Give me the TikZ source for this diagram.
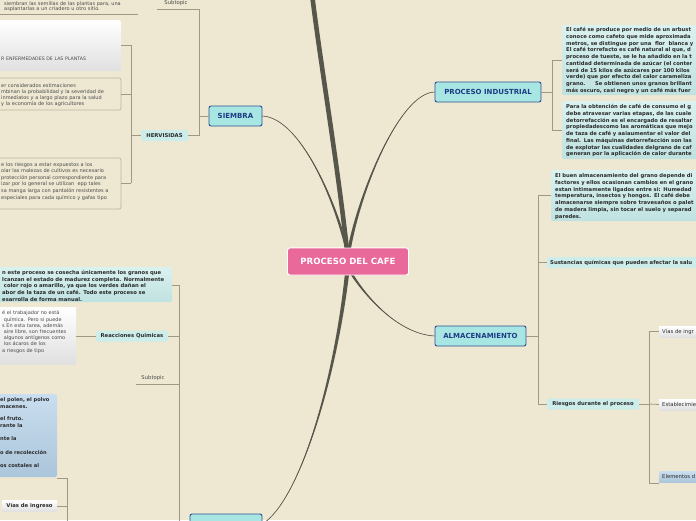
\documentclass[tikz,border=0pt]{standalone}
\usepackage{fontspec}
\setmainfont{DejaVu Sans}
\usetikzlibrary{calc}
\definecolor{bg}{HTML}{EEE8D3}
\definecolor{branchcol}{HTML}{57564A}
\definecolor{conncol}{HTML}{9E9884}
\definecolor{rootpink}{HTML}{E8699A}
\definecolor{topicfill}{HTML}{A8E6E3}
\definecolor{topicborder}{HTML}{2E5190}
\definecolor{topictext}{HTML}{1E3C86}
\definecolor{subfill}{HTML}{CDEDEB}
\definecolor{cyanA}{HTML}{DAF2F0}
\definecolor{cyanB}{HTML}{BFE2E0}
\definecolor{blueA}{HTML}{C9DEEF}
\definecolor{blueB}{HTML}{ABC5DA}
\definecolor{greyB}{HTML}{E0E0E0}
\definecolor{boxborder}{HTML}{BDB6A2}
\definecolor{dtext}{HTML}{2A2A2A}
\definecolor{gtext}{HTML}{4A4A4A}
\newcommand{\taper}[5]{%
  \fill[branchcol] ($(#1)+(-#5,0)$) .. controls ($(#2)+(-#5*0.6,0)$) and (#3) .. (#4)
     .. controls (#3) and ($(#2)+(#5*0.6,0)$) .. ($(#1)+(#5,0)$) -- cycle;
  \draw[branchcol, line width=0.6pt] (#1) .. controls (#2) and (#3) .. (#4);}
\tikzset{
  rootnode/.style={draw=white, line width=0.9pt, fill=rootpink, rounded corners=2.5pt, text=white,
     font=\bfseries\fontsize{8.6}{10}\selectfont, minimum width=121pt, minimum height=27pt, inner sep=0pt},
  topic/.style={draw=topicborder, line width=0.9pt, fill=topicfill, rounded corners=2pt, text=topictext,
     font=\bfseries\fontsize{7}{8}\selectfont, minimum height=20pt, inner sep=0pt},
  subn/.style={fill=subfill, rounded corners=1.5pt, text=dtext,
     font=\bfseries\fontsize{5.3}{6}\selectfont, minimum height=11pt, inner sep=0pt},
  greysub/.style={top color=white, bottom color=greyB, text=dtext,
     font=\bfseries\fontsize{5.3}{6}\selectfont, minimum height=11pt, inner sep=0pt},
  bluesub/.style={top color=blueA, bottom color=blueB, text=dtext,
     font=\bfseries\fontsize{5.3}{6}\selectfont, minimum height=11pt, inner sep=0pt},
  conn/.style={draw=conncol, line width=0.8pt},
  boldtxt/.style={anchor=base west, align=left, inner sep=0pt, text=dtext, text width=200pt,
     font=\bfseries\fontsize{5.25}{6.7}\selectfont},
  regtxt/.style={anchor=base west, align=left, inner sep=0pt, text=gtext, text width=200pt,
     font=\fontsize{5}{6.3}\selectfont},
  sublabel/.style={text=gtext, inner sep=0pt, font=\fontsize{5.3}{6}\selectfont},
}
\begin{document}
\begin{tikzpicture}[x=1pt,y=-1pt]
\useasboundingbox (0,0) rectangle (696,520);
\clip (0,0) rectangle (696,520);
\fill[bg] (0,0) rectangle (696,520);

% ---------- main nodes ----------
\node[rootnode] (root) at (348,261.5) {PROCESO DEL CAFE};
\node[topic, minimum width=53pt] (siem) at (235.5,116) {SIEMBRA};
\node[topic, minimum width=106pt] (pind) at (488,92) {PROCESO INDUSTRIAL};
\node[topic, minimum width=91pt] (alm) at (480.5,336) {ALMACENAMIENTO};
\node[topic, minimum width=72pt] (cos) at (226,524) {};

\coordinate (rtA) at (347,250);
\coordinate (rtB) at (349,250);
\coordinate (rbA) at (351,273);
\coordinate (rbB) at (347,274);
\coordinate (topend) at (312,-6);

% ---------- main branches ----------
\draw[branchcol, line width=4.6pt] (rtA) .. controls (337,160) and (320,60) .. (topend);
\taper{rtA}{335,200}{300,118}{siem.east}{1.6}
\taper{rtB}{360,190}{400,93}{pind.west}{1.7}
\taper{rbA}{368,300}{400,334}{alm.west}{1.5}
\taper{rbB}{335,380}{300,500}{cos.east}{2.1}
\node[rootnode] at (root) {PROCESO DEL CAFE};

% ---------- SIEMBRA subtree ----------
\node[subn, minimum width=47pt] (herv) at (164.5,135.5) {HERVISIDAS};
\coordinate (sA) at (199,116);
\coordinate (sTop) at (199,9);
\coordinate (sBot) at (199,135.5);
\coordinate (stEnd) at (157,9);
\draw[conn] (siem.west) -- (sA);
\draw[conn] (stEnd) -- (sTop) -- (sBot) -- (herv.east);
\node[sublabel] (st1) at (176,3.5) {Subtopic};

\node[regtxt] (toptxt) at (4,5) {siembran las semillas de las plantas para, una\\[-0.4pt]asplantarlas a un criadero u otro sitio.};
\coordinate (tl1) at (0,14.5);
\coordinate (tl2) at (138,14.5);
\draw[conn] (tl1) -- (tl2);

\coordinate (hA) at (131,135.5);
\coordinate (hT) at (131,45);
\coordinate (hM) at (131,94);
\coordinate (hB) at (131,183);
\draw[conn] (herv.west) -- (hA);
\draw[conn] (hT) -- (hB);
% box 1
\shade[top color=white, bottom color=greyB, rounded corners=1.5pt] (-5,20) rectangle (121,71);
\coordinate (b1) at (121,45);
\draw[conn] (hT) -- (b1);
\node[regtxt, font=\fontsize{4.7}{6}\selectfont] (b1t) at (1,60) {R ENFERMEDADES DE LAS PLANTAS};
% box 2
\draw[boxborder, fill=bg, line width=0.8pt, rounded corners=2pt] (-5,78) rectangle (121,110);
\coordinate (b2) at (121,94);
\draw[conn] (hM) -- (b2);
\node[regtxt] (b2t) at (1,87) {er considerados estimaciones\\mbinan la probabilidad y la severidad de\\inmediatos y a largo plazo para la salud\\ y la economía de los agricultores};
% box 3
\draw[boxborder, fill=bg, line width=0.8pt, rounded corners=2pt] (-5,158) rectangle (121,209);
\coordinate (b3) at (121,183);
\draw[conn] (hB) -- (b3);
\node[regtxt, font=\fontsize{5}{6.6}\selectfont] (b3t) at (1,166) {e los riesgos a estar expuestos a los\\olar las malezas de cultivos es necesario\\protección personal correspondiente para\\izar por lo general se utilizan \ epp tales\\sa manga larga con pantalón resistentes a\\especiales para cada químico y gafas tipo};

% ---------- bottom-left subtree ----------
\coordinate (cA) at (179,524);
\coordinate (cT) at (179,285);
\coordinate (cR) at (179,336);
\coordinate (cS) at (179,384);
\coordinate (cSend) at (136,384);
\draw[conn] (cos.west) -- (cA) -- (cT);
\shade[top color=cyanA, bottom color=cyanB, rounded corners=2pt] (-5,267) rectangle (172,302);
\coordinate (cb1) at (172,285);
\draw[conn] (cT) -- (cb1);
\node[boldtxt] (cb1t) at (2,274.3) {n este proceso se cosecha únicamente los granos que\\lcanzan el estado de madurez completa. Normalmente\\\ color rojo o amarillo, ya que los verdes dañan el\\abor de la taza de un café. Todo este proceso se\\esarrolla de forma manual.};

\node[subn, minimum width=72pt] (reac) at (132,336) {Reacciones Quimicas};
\draw[conn] (cR) -- (reac.east);
\shade[top color=white, bottom color=greyB] (-5,307) rectangle (76,364);
\coordinate (wb) at (76,336);
\draw[conn] (reac.west) -- (wb);
\node[regtxt, font=\fontsize{5}{6.2}\selectfont] (wbt) at (2,314.8) {é el trabajador no está\\\ química. Pero si puede\\s En esta tarea, además\\\ aire libre, son frecuentes\\\ algunos antígenos como\\\ los ácaros de los\\a riesgos de tipo};

\draw[conn] (cS) -- (cSend);
\node[sublabel] (st2) at (153,378) {Subtopic};

% blue box + vias
\shade[top color=blueA, bottom color=blueB, rounded corners=2pt] (-5,394) rectangle (57,477);
\node[boldtxt, font=\bfseries\fontsize{5.1}{7}\selectfont] (blt) at (0,401.8) {el polen, el polvo\\macenes.\\[5pt]el fruto.\\rante la\\[6pt]nte la\\[6.5pt]o de recolección\\[6pt]os costales al};
\coordinate (vb1) at (57,478);
\coordinate (vc) at (67,478);
\coordinate (vm) at (67,506);
\coordinate (vend) at (67,525);
\node[greysub, minimum width=55pt] (vias) at (29.5,506) {Vías de ingreso};
\draw[conn] (vb1) -- (vc) -- (vend);
\draw[conn] (vm) -- (vias.east);

% ---------- PROCESO INDUSTRIAL subtree ----------
\coordinate (pA) at (552,92);
\coordinate (pT) at (552,60);
\coordinate (pB) at (552,130);
\coordinate (p1) at (562,60);
\coordinate (p2) at (562,130);
\draw[conn] (pind.east) -- (pA);
\draw[conn] (pT) -- (pB);
\draw[conn] (pT) -- (p1);
\draw[conn] (pB) -- (p2);
\shade[top color=cyanA, bottom color=cyanB, rounded corners=2pt] (562,25) rectangle (705,95);
\node[boldtxt] (p1t) at (566,31.8) {El café se produce por medio de un arbust\\conoce como cafeto que mide aproximada\\metros, se distingue por una \ flor \ blanca y\\El café torrefacto es café natural al que, d\\proceso de tueste, se le ha añadido en la t\\cantidad determinada de azúcar (el conter\\será de 15 kilos de azúcares por 100 kilos\\verde) que por efecto del calor carameliza\\grano. \ \ \ \ Se obtienen unos granos brillant\\más oscuro, casi negro y un café más fuer};
\shade[top color=cyanA, bottom color=cyanB, rounded corners=2pt] (562,101) rectangle (705,159);
\node[boldtxt] (p2t) at (566,108.8) {Para la obtención de café de consumo el g\\debe atravesar varias etapas, de las cuale\\detorrefacción es el encargado de resaltar\\propiedadescomo las aromáticas que mejo\\de taza de café y aaiaumentar el valor del\\final. Las máquinas detorrefacción son las\\de explotar las cualidades delgrano de caf\\generan por la aplicación de calor durante};

% ---------- ALMACENAMIENTO subtree ----------
\coordinate (aA) at (538,336);
\coordinate (aT) at (538,195);
\coordinate (aS) at (538,262.5);
\coordinate (aB) at (538,404);
\coordinate (a1) at (551,195);
\draw[conn] (alm.east) -- (aA);
\draw[conn] (aT) -- (aB);
\draw[conn] (aT) -- (a1);
\shade[top color=cyanA, bottom color=cyanB, rounded corners=2pt] (551,170) rectangle (705,221);
\node[boldtxt] (a1t) at (555,177.8) {El buen almacenamiento del grano depende di\\factores y ellos ocasionan cambios en el grano\\estan intimamente ligados entre si: Humedad\\temperatura, insectos y hongos. El café debe\\almacenarse siempre sobre travesaños o palet\\de madera limpia, sin tocar el suelo y separad\\paredes.};
\node[subn, minimum width=160pt, text width=154pt, align=left, anchor=west] (sust) at (547,262.5) {Sustancias químicas que pueden afectar la salu};
\draw[conn] (aS) -- (sust.west);
\node[subn, minimum width=92pt] (ries) at (593,404) {Riesgos durante el proceso};
\draw[conn] (aB) -- (ries.west);

\coordinate (rA) at (649,404);
\coordinate (rT) at (649,331.5);
\coordinate (rB) at (649,483);
\draw[conn] (ries.east) -- (rA);
\draw[conn] (rT) -- (rB);
\node[greysub, minimum width=50pt, text width=44pt, align=left, anchor=west] (vias2) at (659,331.5) {\mdseries Vías de ingr};
\node[greysub, minimum width=50pt, text width=44pt, align=left, anchor=west] (estab) at (659,404.5) {\mdseries Establecimie};
\node[bluesub, minimum width=50pt, text width=44pt, align=left, anchor=west] (elem) at (659,477) {\mdseries Elementos d};
\coordinate (rB2) at (659,483);
\draw[conn] (rT) -- (vias2.west);
\draw[conn] (rA) -- (estab.west);
\draw[conn] (rB) -- (rB2);
\end{tikzpicture}
\end{document}
